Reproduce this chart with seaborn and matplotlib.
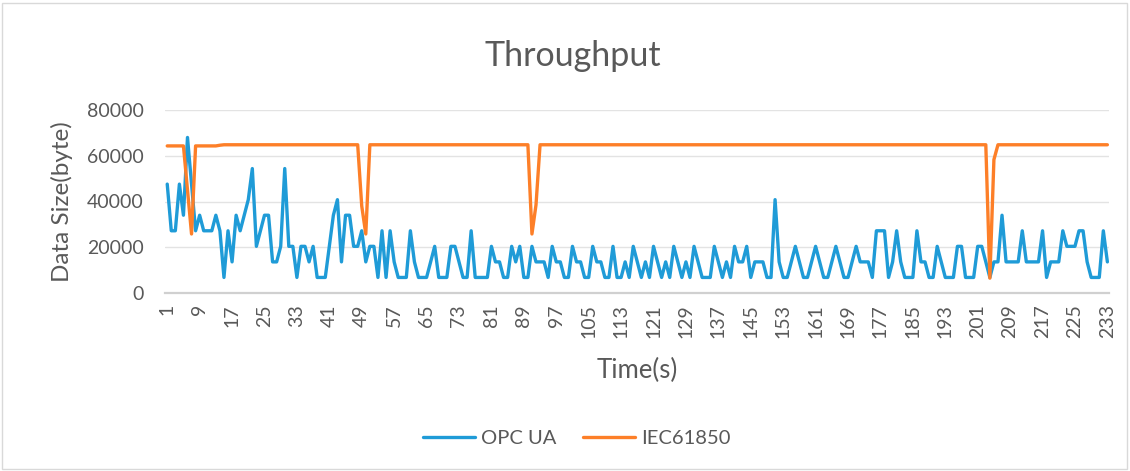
import matplotlib
matplotlib.use("Agg")
import matplotlib.pyplot as plt
from matplotlib.lines import Line2D
from matplotlib.patches import Rectangle
import pandas as pd
import seaborn as sns

# ---- data -------------------------------------------------------------
time_s = list(range(1, 234))

opc_ua = [
    47600, 27200, 27200, 47600, 34000, 68000, 47600, 27200, 34000, 27200,
    27200, 27200, 34000, 27200, 6800, 27200, 13600, 34000, 27200, 34000,
    40800, 54400, 20400, 27200, 34000, 34000, 13600, 13600, 20400, 54400,
    20400, 20400, 6800, 20400, 20400, 13600, 20400, 6800, 6800, 6800,
    20400, 34000, 40800, 13600, 34000, 34000, 20400, 20400, 27200, 13600,
    20400, 20400, 6800, 27200, 6800, 27200, 13600, 6800, 6800, 6800,
    27200, 13600, 6800, 6800, 6800, 13600, 20400, 6800, 6800, 6800,
    20400, 20400, 13600, 6800, 6800, 27200, 6800, 6800, 6800, 6800,
    20400, 13600, 13600, 6800, 6800, 20400, 13600, 20400, 6800, 6800,
    20400, 13600, 13600, 13600, 6800, 20400, 13600, 13600, 6800, 6800,
    20400, 13600, 13600, 6800, 6800, 20400, 13600, 13600, 6800, 6800,
    20400, 6800, 6800, 13600, 6800, 20400, 13600, 6800, 13600, 6800,
    20400, 13600, 6800, 13600, 6800, 20400, 13600, 6800, 13600, 6800,
    20400, 13600, 6800, 6800, 6800, 20400, 13600, 6800, 13600, 6800,
    20400, 13600, 13600, 20400, 6800, 13600, 13600, 13600, 6800, 6800,
    40800, 13600, 6800, 6800, 13600, 20400, 13600, 6800, 6800, 13600,
    20400, 13600, 6800, 6800, 13600, 20400, 13600, 6800, 6800, 13600,
    20400, 13600, 13600, 13600, 6800, 27200, 27200, 27200, 6800, 13600,
    27200, 13600, 6800, 6800, 6800, 27200, 13600, 13600, 6800, 6800,
    20400, 13600, 6800, 6800, 6800, 20400, 20400, 6800, 6800, 6800,
    20400, 20400, 13600, 6800, 13600, 13600, 34000, 13600, 13600, 13600,
    13600, 27200, 13600, 13600, 13600, 13600, 27200, 6800, 13600, 13600,
    13600, 27200, 20400, 20400, 20400, 27200, 27200, 13600, 6800, 6800,
    6800, 27200, 13600,
]

iec61850 = [
    64300, 64300, 64300, 64300, 64300, 45000, 25800, 64300, 64300, 64300,
    64300, 64300, 64300, 64600, 64800, 64800, 64800, 64800, 64800, 64800,
    64800, 64800, 64800, 64800, 64800, 64800, 64800, 64800, 64800, 64800,
    64800, 64800, 64800, 64800, 64800, 64800, 64800, 64800, 64800, 64800,
    64800, 64800, 64800, 64800, 64800, 64800, 64800, 64800, 38000, 25800,
    64800, 64800, 64800, 64800, 64800, 64800, 64800, 64800, 64800, 64800,
    64800, 64800, 64800, 64800, 64800, 64800, 64800, 64800, 64800, 64800,
    64800, 64800, 64800, 64800, 64800, 64800, 64800, 64800, 64800, 64800,
    64800, 64800, 64800, 64800, 64800, 64800, 64800, 64800, 64800, 64800,
    25800, 38500, 64800, 64800, 64800, 64800, 64800, 64800, 64800, 64800,
    64800, 64800, 64800, 64800, 64800, 64800, 64800, 64800, 64800, 64800,
    64800, 64800, 64800, 64800, 64800, 64800, 64800, 64800, 64800, 64800,
    64800, 64800, 64800, 64800, 64800, 64800, 64800, 64800, 64800, 64800,
    64800, 64800, 64800, 64800, 64800, 64800, 64800, 64800, 64800, 64800,
    64800, 64800, 64800, 64800, 64800, 64800, 64800, 64800, 64800, 64800,
    64800, 64800, 64800, 64800, 64800, 64800, 64800, 64800, 64800, 64800,
    64800, 64800, 64800, 64800, 64800, 64800, 64800, 64800, 64800, 64800,
    64800, 64800, 64800, 64800, 64800, 64800, 64800, 64800, 64800, 64800,
    64800, 64800, 64800, 64800, 64800, 64800, 64800, 64800, 64800, 64800,
    64800, 64800, 64800, 64800, 64800, 64800, 64800, 64800, 64800, 64800,
    64800, 64800, 64800, 6500, 58300, 64800, 64800, 64800, 64800, 64800,
    64800, 64800, 64800, 64800, 64800, 64800, 64800, 64800, 64800, 64800,
    64800, 64800, 64800, 64800, 64800, 64800, 64800, 64800, 64800, 64800,
    64800, 64800, 64800,
]

series_names = ["OPC UA", "IEC61850"]
series_colors = ["#1f9bd7", "#fd7f28"]
y_ticks = [0, 20000, 40000, 60000, 80000]
x_tick_labels = list(range(1, 234, 8))

# ---- style ------------------------------------------------------------
sns.set_theme(style="white")
plt.rcParams["font.family"] = ["Lato", "DejaVu Sans"]
text_grey = "#595959"

df = pd.DataFrame({
    "Time(s)": time_s + time_s,
    "Data Size(byte)": opc_ua + iec61850,
    "series": [series_names[0]] * len(opc_ua) + [series_names[1]] * len(iec61850),
})

W, H = 1130, 471
fig = plt.figure(figsize=(W / 100, H / 100), dpi=100)
fig.patch.set_facecolor("white")

# outer chart frame
fig.patches.append(Rectangle((2 / W, 2 / H), (W - 5) / W, (H - 5) / H,
                             transform=fig.transFigure, fill=False,
                             edgecolor="#d9d9d9", linewidth=1.0))

ax = fig.add_axes([165 / W, 1 - 293 / H, (1109 - 165) / W, (293 - 110) / H])

sns.lineplot(data=df, x="Time(s)", y="Data Size(byte)", hue="series",
             hue_order=series_names,
             palette=dict(zip(series_names, series_colors)),
             linewidth=2.4, legend=False, ax=ax)

ax.set_xlim(0.45, 233.4)
ax.set_ylim(0, 80000)
ax.set_yticks(y_ticks)
ax.set_yticklabels([str(v) for v in y_ticks], fontsize=14, color=text_grey)
ax.set_xticks(x_tick_labels)
ax.set_xticklabels([str(v) for v in x_tick_labels], rotation=90,
                   fontsize=14, color=text_grey)
ax.tick_params(axis="y", length=0, pad=15.5)
ax.tick_params(axis="x", length=0, pad=8)

ax.grid(axis="y", color="#e3e3e3", linewidth=1.0)
ax.grid(axis="x", visible=False)
for side in ["left", "right", "top"]:
    ax.spines[side].set_visible(False)
ax.spines["bottom"].set_color("#d0d0d0")
ax.spines["bottom"].set_linewidth(1.6)
ax.set_axisbelow(True)

ax.set_xlabel("Time(s)", fontsize=18.5, color=text_grey, labelpad=14)
ax.set_ylabel("Data Size(byte)", fontsize=17.5, color=text_grey, labelpad=10)

fig.text(573 / W, 1 - 56 / H, "Throughput", ha="center", va="center",
         fontsize=24.5, color=text_grey)

handles = [Line2D([0], [0], color=c, linewidth=2.4) for c in series_colors]
fig.legend(handles, series_names, loc="center", ncol=2,
           bbox_to_anchor=(577 / W, 1 - 438 / H), frameon=False,
           fontsize=14.5, labelcolor=text_grey, handlelength=2.6,
           handletextpad=0.3, columnspacing=1.3)

fig.savefig("out.png", dpi=100, facecolor="white")
